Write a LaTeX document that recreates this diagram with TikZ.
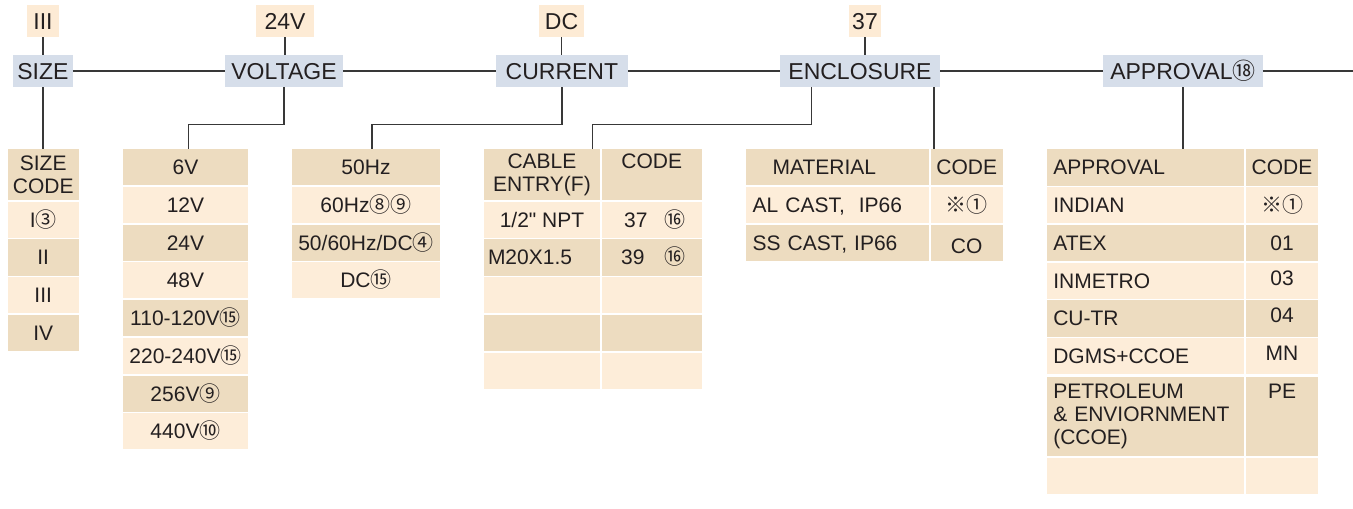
\documentclass[tikz,border=0pt]{standalone}
\usepackage{fontspec}
\setmainfont{Liberation Sans}
\newfontfamily\plainsans{Liberation Sans}
\newfontfamily\cjk{Noto Sans CJK SC}
\usepackage{tikz}
\usetikzlibrary{calc}
\definecolor{hdrBlue}{HTML}{D6DEEA}
\definecolor{selOrange}{HTML}{FDEBD5}
\definecolor{rowD}{HTML}{EDDCC0}
\definecolor{rowL}{HTML}{FDEDD9}
\definecolor{lineGray}{HTML}{383838}
\definecolor{txtDark}{HTML}{231F20}
\newcommand{\cn}[1]{{\cjk #1}}
\newcommand{\hdrfont}{\fontsize{23}{26}\selectfont}
\newcommand{\tblfont}{\fontsize{21}{23.3}\selectfont}

\begin{document}
\begin{tikzpicture}[x=1pt, y=-1pt,
  hdr/.style={fill=hdrBlue, inner sep=0pt, minimum height=32pt, font=\hdrfont,
    text=txtDark, text height=16.5pt, text depth=0pt},
  sel/.style={hdr, fill=selOrange},
  base/.style={inner sep=0pt, font=\tblfont, text=txtDark, minimum height=36.2pt},
  cell/.style={base, text height=15pt, text depth=0pt},
  mcell/.style={base, align=center},
  lcell/.style={cell, inner xsep=6.6pt, align=left},
  mlcell/.style={base, inner xsep=6.6pt, align=left},
  conn/.style={draw=lineGray, line width=1.4pt},
]

\useasboundingbox (0,0) rectangle (1353,509);

% === Header row ===
\node[hdr, minimum width=59.7pt] (size) at (42.9,71) {SIZE};
\node[hdr, minimum width=118pt] (voltage) at (284,71) {VOLTAGE};
\node[hdr, minimum width=131.7pt] (current) at (561.9,71) {CURRENT};
\node[hdr, minimum width=160pt] (enclosure) at (860,71) {ENCLOSURE};
\node[hdr, minimum width=159.7pt] (approval) at (1182.9,71) {APPROVAL\cn{⑱}};
\coordinate (lineEnd) at (1353,71);

% === Selected codes ===
\node[sel, minimum width=32pt] (selSize) at (43,21) {III};
\node[sel, minimum width=58pt] (selVolt) at (285,21) {24V};
\node[sel, minimum width=45pt] (selCurr) at (561.5,21) {DC};
\node[sel, minimum width=32pt] (selEncl) at (865,21) {37};

% === SIZE ===
\node[mcell, fill=rowD, minimum width=71pt, minimum height=51pt] (sizeHead) at (43.2,174.5) {SIZE\\CODE};
\foreach \t [count=\i] in {I\cn{③}, II, III, IV} {
  \ifodd\i \def\shade{rowL}\else\def\shade{rowD}\fi
  \node[cell, fill=\shade, minimum width=71pt] (size\i) at (43.2,{219.7+(\i-1)*37.75}) {\t};
}

% === VOLTAGE ===
\foreach \t [count=\i] in {6V, 12V, 24V, 48V, 110-120V\cn{⑮}, 220-240V\cn{⑮}, 256V\cn{⑨}, 440V\cn{⑩}} {
  \ifodd\i \def\shade{rowD}\else\def\shade{rowL}\fi
  \node[cell, fill=\shade, minimum width=125pt] (volt\i) at (185.5,{167.1+(\i-1)*37.75}) {\t};
}

% === CURRENT ===
\foreach \t [count=\i] in {50Hz, 60Hz\cn{⑧⑨}, {50/60Hz/DC\cn{④}}, DC\cn{⑮}} {
  \ifodd\i \def\shade{rowD}\else\def\shade{rowL}\fi
  \node[cell, fill=\shade, minimum width=148pt] (freq\i) at (366,{167.1+(\i-1)*37.75}) {\t};
}

% === CABLE ENTRY ===
\node[mcell, fill=rowD, minimum width=116pt, minimum height=51pt] (cableHead) at (542,174.5) {CABLE\\ENTRY(F)};
\node[mcell, fill=rowD, minimum width=100.5pt, minimum height=51pt] (cableCodeHead) at (651.75,174.5) {CODE\\\vphantom{()}};
\node[cell, fill=rowL, minimum width=116pt] (cable1) at (542,219.7) {1/2{\plainsans"} NPT};
\node[cell, fill=rowL, minimum width=100.5pt] (cableCode1) at (651.75,219.7) {\hspace{6pt}37\hspace{17pt}\cn{⑯}};
\node[lcell, fill=rowD, inner xsep=4pt, text width=108pt] (cable2) at (542,257.45) {M20X1.5};
\node[cell, fill=rowD, minimum width=100.5pt] (cableCode2) at (651.75,257.45) {\hspace{3pt}39\hspace{20pt}\cn{⑯}};
\foreach \i in {3,4,5} {
  \ifodd\i \def\shade{rowL}\else\def\shade{rowD}\fi
  \node[cell, fill=\shade, minimum width=116pt] (cable\i) at (542,{219.7+(\i-1)*37.75}) {};
  \node[cell, fill=\shade, minimum width=100.5pt] (cableCode\i) at (651.75,{219.7+(\i-1)*37.75}) {};
}

% === MATERIAL ===
\foreach \a/\b/\s [count=\i] in {{\hspace{20pt}MATERIAL}/CODE/0, {AL CAST,\ \ IP66}/\cn{※①}/0, {SS CAST, IP66}/CO/-3} {
  \ifodd\i \def\shade{rowD}\else\def\shade{rowL}\fi
  \node[lcell, fill=\shade, text width=169.6pt] (mat\i) at (837.5,{167.1+(\i-1)*37.75}) {\a};
  \node[cell, fill=\shade, minimum width=72pt] (matCode\i) at (966.7,{167.1+(\i-1)*37.75}) {\raisebox{\s pt}{\b}};
}

% === APPROVAL ===
\foreach \a/\b/\s [count=\i] in {APPROVAL/CODE/0, INDIAN/\cn{※①}/0, ATEX/01/0, INMETRO/03/3, CU-TR/04/3, DGMS+CCOE/MN/3} {
  \ifodd\i \def\shade{rowD}\else\def\shade{rowL}\fi
  \node[lcell, fill=\shade, text width=184.4pt] (appr\i) at (1145.5,{167.4+(\i-1)*37.75}) {\a};
  \node[cell, fill=\shade, minimum width=72.6pt] (apprCode\i) at (1282,{167.4+(\i-1)*37.75}) {\raisebox{\s pt}{\b}};
}
\node[mlcell, fill=rowD, minimum height=79.3pt, text width=184.4pt] (appr7) at (1145.5,416.35) {PETROLEUM\\\& ENVIORNMENT\\(CCOE)};
\node[mcell, fill=rowD, minimum height=79.3pt, minimum width=72.6pt] (apprCode7) at (1282,416.35) {PE\\\mbox{}\\\vphantom{()}};
\node[cell, fill=rowL, minimum width=197.6pt] (appr8) at (1145.5,475.85) {};
\node[cell, fill=rowL, minimum width=72.6pt] (apprCode8) at (1282,475.85) {};

% === Connectors ===
\draw[conn] (size) -- (voltage) -- (current) -- (enclosure) -- (approval) -- (lineEnd);
\draw[conn] (selSize) -- (selSize |- size.north);
\draw[conn] (selVolt) -- (selVolt |- voltage.north);
\draw[conn] (selCurr) -- (selCurr |- current.north);
\draw[conn] (selEncl) -- (selEncl |- enclosure.north);

\coordinate (voltIn) at (188.7,149);
\coordinate (freqIn) at (372,149);
\coordinate (cableIn) at (592.7,149);
\draw[conn] (size.south) -- (size.south |- sizeHead.north);
\draw[conn] (voltage.south) -- ++(0,37) -| (voltIn);
\draw[conn] (current.south) -- ++(0,37) -| (freqIn);
\draw[conn] ([xshift=-48.3pt]enclosure.south) -- ++(0,37) -| (cableIn);
\draw[conn] ([xshift=74pt]enclosure.south) -- ([xshift=74pt]enclosure.south |- matCode1.north);
\draw[conn] (approval.south) -- (approval.south |- appr1.north);

\end{tikzpicture}
\end{document}
